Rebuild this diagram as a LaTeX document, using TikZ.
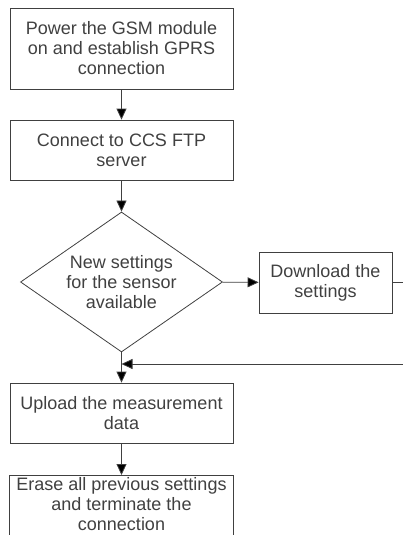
\documentclass[tikz,border=0pt]{standalone}
\usepackage{fontspec}
\setmainfont{Liberation Sans}
\usetikzlibrary{arrows.meta,shapes.geometric}
\definecolor{inkgray}{HTML}{404040}
\def\boxwidth{223pt}
\def\midx{121.5pt}

\begin{document}
\begin{tikzpicture}[
	stepbox/.style={rectangle,draw=inkgray,thick,text=inkgray,align=center,minimum width=\boxwidth,inner sep=0pt,font=\fontsize{18pt}{20pt}\selectfont},
	decision/.style={diamond,draw=inkgray,thick,text=inkgray,align=center,aspect=1.44,inner sep=0pt,minimum width=202pt,minimum height=140pt,font=\fontsize{18pt}{20pt}\selectfont},
	flow/.style={-{Triangle[length=11pt,width=10pt,fill=black]},draw=inkgray,thick},
	line/.style={draw=inkgray,thick}
	]
	\useasboundingbox (0,0) rectangle (403pt,-535pt);
	
	\node[stepbox,minimum height=81pt] (power) at (\midx,-48.5pt) {Power the GSM module\\on and establish GPRS\\connection};
	\node[stepbox,minimum height=60pt] (connect) at (\midx,-150pt) {Connect to CCS FTP\\server};
	\node[decision] (decide) at (\midx,-282pt) {New settings\\for the sensor\\available};
	\node[stepbox,minimum width=133pt,minimum height=61pt] (download) at (325.5pt,-282.5pt) {Download the\\settings};
	\node[stepbox,minimum height=60pt] (upload) at (\midx,-413pt) {Upload the measurement\\data};
	\node[stepbox,draw=none,minimum height=58pt,anchor=north] (erase) at (\midx,-475pt) {Erase all previous settings\\and terminate the\\connection};
	% last box runs off the page
	\draw[line] ([yshift=-12pt]erase.south west) |- (erase.north east) -- ([yshift=-12pt]erase.south east);
	
	\coordinate (out) at (403pt,-282.5pt);
	\coordinate (back) at (403pt,-364pt);
	
	\draw[flow] (power) -- (connect);
	\draw[flow] (connect) -- (decide);
	\draw[flow] (decide) -- (download);
	\draw[line] (download) -- (out);
	\draw[flow] (back) -- (decide.south |- back);
	\draw[flow] (decide) -- (upload);
	\draw[flow] (upload) -- (erase);
\end{tikzpicture}
\end{document}
